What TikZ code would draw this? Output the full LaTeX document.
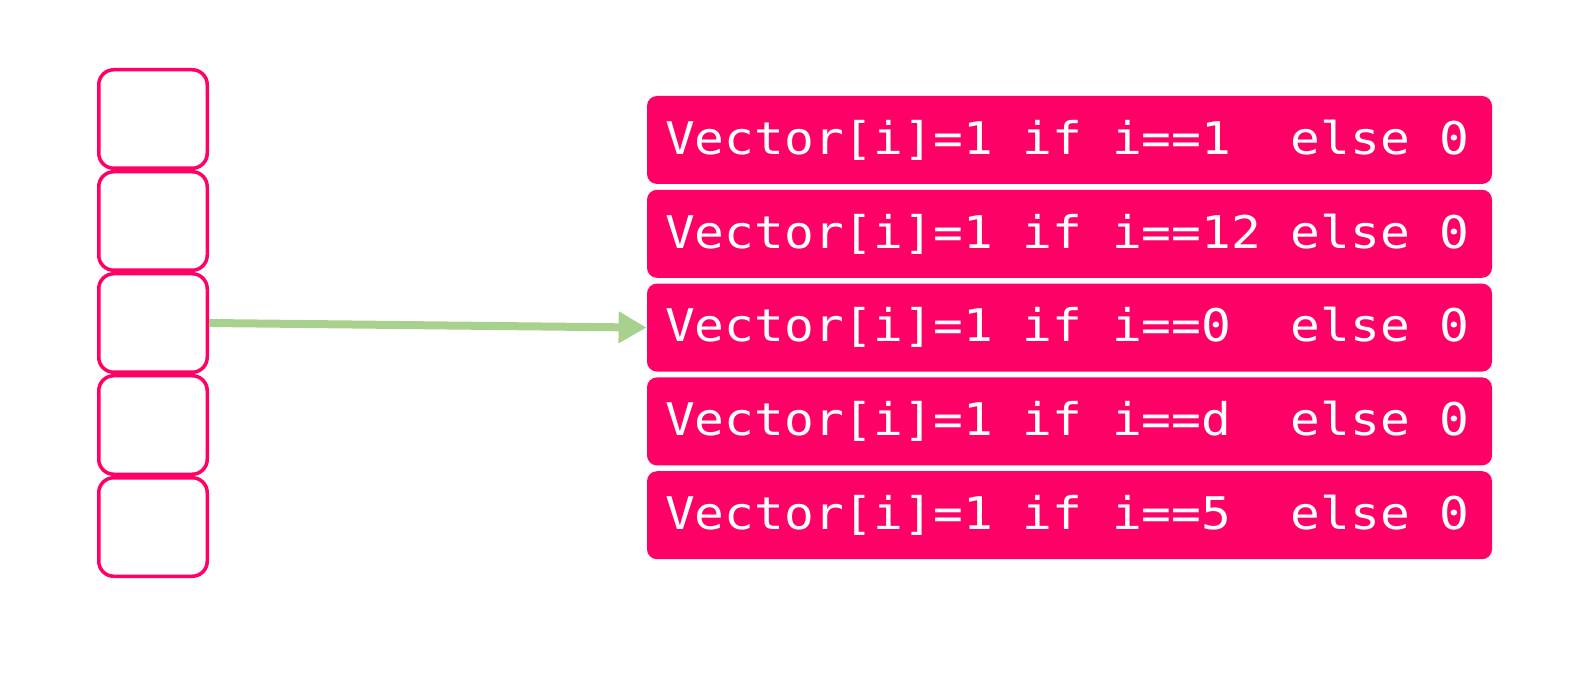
\documentclass[tikz,border=0pt]{standalone}
\usepackage{fontspec}
\newfontfamily\codefont[FakeStretch=1.1]{DejaVu Sans Mono}
\usetikzlibrary{arrows.meta,positioning}
\definecolor{hotpink}{HTML}{FF0066}
\definecolor{leafgreen}{HTML}{A9D18E}
% one monospace blank, as wide as a digit
\newcommand{\gap}{\hphantom{0}}
\newcommand{\onehot}[1]{Vector[i]=1\gap if\gap i==#1\gap else\gap 0}

\begin{document}
\begin{tikzpicture}[
    x=1pt, y=1pt,
    cell/.style={rounded corners=7.5pt, draw=hotpink, line width=1.75pt, fill=white, minimum width=54.25pt, minimum height=49.25pt},
    row/.style={rounded corners=5pt, fill=hotpink, text=white, minimum width=422.5pt, minimum height=44pt,
                text width=404.5pt, inner xsep=9pt, font=\codefont\fontsize{22.5pt}{27pt}\selectfont},
    arrow/.style={line width=4pt, leafgreen, -{Triangle[length=14pt, width=15pt]}}
  ]
    \useasboundingbox (0,0) rectangle (794,-347);

    % Input vector cells
    \node[cell] (cell1) at (76.5,-59.5) {};
    \node[cell, below=0pt of cell1] (cell2) {};
    \node[cell, below=0pt of cell2] (cell3) {};
    \node[cell, below=0pt of cell3] (cell4) {};
    \node[cell, below=0pt of cell4] (cell5) {};

    % One-hot rows
    \node[row] (row1) at (534.75,-70) {\onehot{1\gap}};
    \node[row, below=2.5pt of row1] (row2) {\onehot{12}};
    \node[row, below=2.5pt of row2] (row3) {\onehot{0\gap}};
    \node[row, below=2.5pt of row3] (row4) {\onehot{d\gap}};
    \node[row, below=2.5pt of row4] (row5) {\onehot{5\gap}};

    % Lookup
    \draw[arrow] (cell3.east) -- (row3.west);

  \end{tikzpicture}
\end{document}
